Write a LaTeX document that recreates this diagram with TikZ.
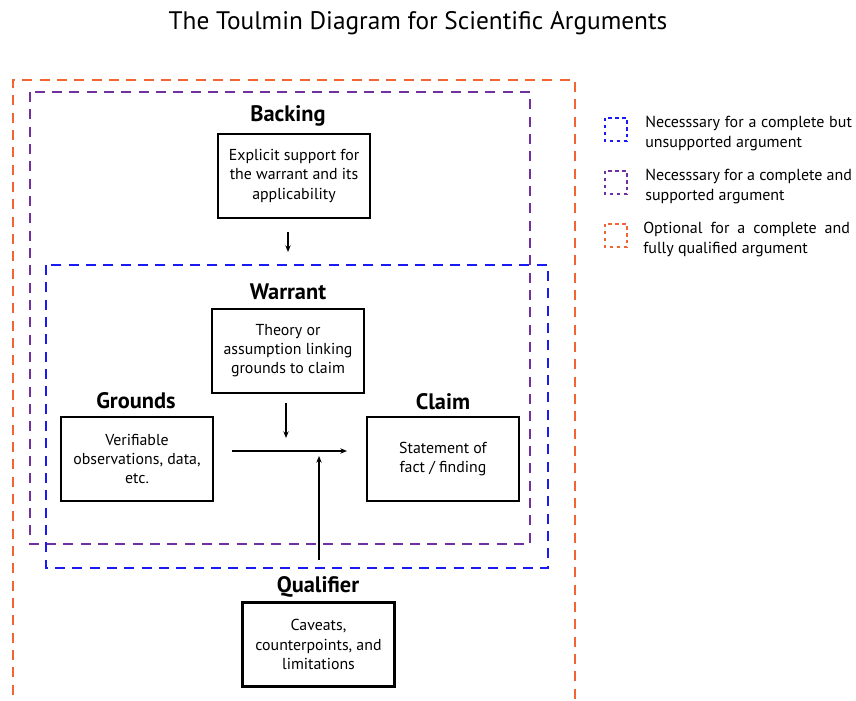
\documentclass[tikz,border=0pt]{standalone}
\usepackage{fontspec}
\setmainfont{PT Sans}
\usetikzlibrary{arrows.meta}
\definecolor{orng}{HTML}{F26532}
\definecolor{purp}{HTML}{7030A0}
\definecolor{blu}{HTML}{1A1AF5}
\begin{document}
\begin{tikzpicture}[x=0.75pt,y=-0.75pt,
  zone/.style={line width=1.4pt, dash pattern=on 7.5pt off 5.5pt},
  legbox/.style={line width=1.6pt, dash pattern=on 2.6pt off 2.6pt},
  cbox/.style={draw, line width=1.8pt, minimum width=114pt, minimum height=63pt, align=center, inner sep=2pt,
     font=\fontsize{11.9}{14.3}\selectfont},
  lbl/.style={font=\fontsize{16.8}{19}\selectfont\bfseries},
  legtxt/.style={anchor=north west, text width=155pt, align=justify, inner sep=0pt,
     font=\fontsize{12}{14.8}\selectfont},
  conn/.style={line width=0.9pt, -{Stealth[length=5pt,width=4pt]}}]
\useasboundingbox (0,0) rectangle (856,700);
\node[font=\fontsize{19}{22}\selectfont] (title) at (418,23) {The Toulmin Diagram for Scientific Arguments};
% zones
\draw[zone, orng] (13,712) -- (13,80) -- (575,80) -- (575,712);
\draw[zone, purp] (30,92) rectangle (530,544);
\draw[zone, blu] (46,265) rectangle (548,568);
% boxes
\node[cbox] (backing) at (294,176) {Explicit support for\\the warrant and its\\applicability};
\node[lbl] (backingl) at (288,116) {Backing};
\node[cbox] (warrant) at (288,351) {Theory or\\assumption linking\\grounds to claim};
\node[lbl] (warrantl) at (288,292) {Warrant};
\node[cbox] (grounds) at (137,459) {Verifiable\\observations, data,\\etc.};
\node[lbl] (groundsl) at (136,401) {Grounds};
\node[cbox] (claim) at (443,459) {Statement of\\fact / finding};
\node[lbl] (claiml) at (443,402) {Claim};
\node[cbox] (qual) at (318.5,644.5) {Caveats,\\counterpoints, and\\limitations};
\node[lbl] (quall) at (318,587) {Qualifier};
% arrows
\coordinate (b1) at (288,232); \coordinate (b2) at (288,252);
\coordinate (w1) at (286,403); \coordinate (w2) at (286,438);
\coordinate (g1) at (232,451); \coordinate (g2) at (347,451);
\coordinate (q1) at (319,560); \coordinate (q2) at (319,456);
\draw[conn] (b1) -- (b2);
\draw[conn] (w1) -- (w2);
\draw[conn] (g1) -- (g2);
\draw[conn] (q1) -- (q2);
% legend
\draw[legbox, blu] (605,118) rectangle (627,141);
\draw[legbox, purp] (605,171) rectangle (627,194);
\draw[legbox, orng] (605,224) rectangle (627,247);
\node[legtxt] (l1) at (645,116) {Necesssary for a complete but\linebreak unsupported argument};
\node[legtxt] (l2) at (645,169) {Necesssary for a complete and\linebreak supported argument};
\node[legtxt] (l3) at (643,222) {Optional for a complete and\linebreak fully qualified argument};
\end{tikzpicture}
\end{document}
